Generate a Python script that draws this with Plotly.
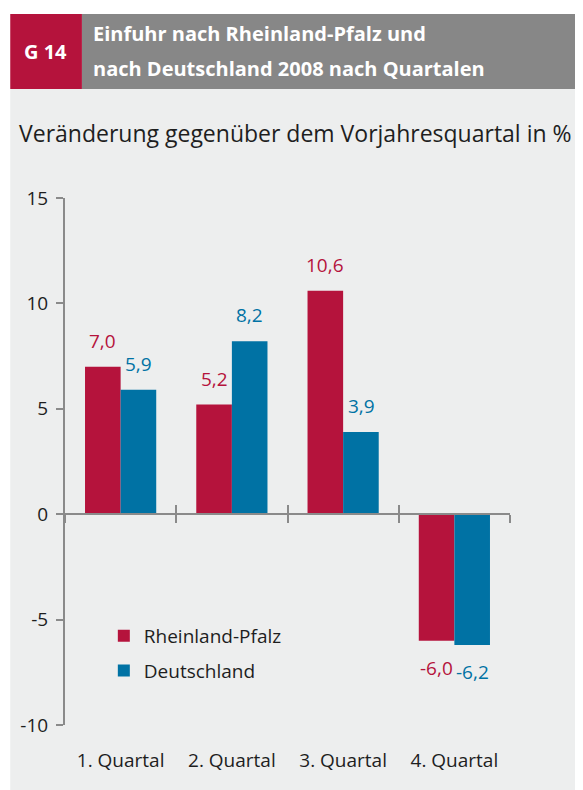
import plotly.graph_objects as go

# colours
RED = "#B5133C"
BLUE = "#0072A4"
AXIS = "#8A8A8A"
PANEL = "#EDEEEE"
HEADER = "#878787"
INK = "#1E1E1E"

FONT = "Open Sans, 'Noto Sans', sans-serif"

quarters = ["1. Quartal", "2. Quartal", "3. Quartal", "4. Quartal"]
rlp = [7.0, 5.2, 10.6, -6.0]
de = [5.9, 8.2, 3.9, -6.2]
y_ticks = [-10, -5, 0, 5, 10, 15]

# the page body adds an 8px margin, so the figure is a bit smaller than the window
OFF = 8
W, H = 583 - OFF, 790 - OFF
L, R, T, B = 55, 73, 190, 65
PW, PH = W - L - R, H - T - B
BARGAP = 0.36


def px(x):
    # page pixel -> paper x
    return (x - OFF - L) / PW


def py(y):
    # page pixel -> paper y
    return (H - B - (y - OFF)) / PH


def de_fmt(v):
    return f"{v:.1f}".replace(".", ",")


fig = go.Figure()
series = [("Rheinland-Pfalz", rlp, RED), ("Deutschland", de, BLUE)]
for name, vals, col in series:
    fig.add_trace(
        go.Bar(
            x=quarters,
            y=vals,
            name=name,
            legendgroup=name,
            marker=dict(color=col, line=dict(width=0)),
        )
    )

# value labels, placed on each bar through the axis scales
half_bar = PW / len(quarters) * (1 - BARGAP) / 2
labels = []
for k, (name, vals, col) in enumerate(series):
    shift = -half_bar / 2 if k == 0 else half_bar / 2
    for q, v in zip(quarters, vals):
        labels.append(dict(
            x=q, y=v, xref="x", yref="y", text=de_fmt(v), showarrow=False,
            xshift=shift, yshift=26 if v >= 0 else -27,
            xanchor="center", yanchor="middle",
            font=dict(size=19, color=col),
        ))

# invisible traces to carry the zero-line axes with boundary ticks
for ax in ["x2", "x3"]:
    fig.add_trace(go.Scatter(x=quarters, y=[0] * 4, xaxis=ax, mode="markers",
                             marker=dict(opacity=0), showlegend=False, hoverinfo="skip"))

zero_pos = (0 - y_ticks[0]) / (y_ticks[-1] - y_ticks[0])
zero_axis = dict(
    overlaying="x", matches="x", anchor="free", position=zero_pos,
    showline=True, linecolor=AXIS, linewidth=2,
    tickson="boundaries", ticklen=8, tickwidth=2, tickcolor=AXIS,
    showticklabels=False, showgrid=False, zeroline=False,
)

fig.update_layout(
    width=W, height=H,
    margin=dict(l=L, r=R, t=T, b=B),
    paper_bgcolor="white",
    plot_bgcolor="rgba(0,0,0,0)",
    font=dict(family=FONT, color=INK, size=19),
    barmode="group",
    bargap=BARGAP,
    bargroupgap=0,
    showlegend=True,
    legend=dict(
        x=px(102), y=py(617), xanchor="left", yanchor="top",
        bgcolor="rgba(0,0,0,0)", font=dict(size=19, color=INK),
        traceorder="grouped", tracegroupgap=7,
    ),
    xaxis=dict(
        showline=False, ticks="", showgrid=False, zeroline=False,
        tickfont=dict(size=19, color=INK),
        ticklabelstandoff=22,
    ),
    xaxis2=dict(zero_axis, ticks="outside"),
    xaxis3=dict(zero_axis, ticks="inside"),
    yaxis=dict(
        range=[y_ticks[0], y_ticks[-1]],
        tickvals=y_ticks,
        ticktext=[str(v) for v in y_ticks],
        showline=True, linecolor=AXIS, linewidth=2,
        ticks="outside", ticklen=7, tickwidth=2, tickcolor=AXIS,
        showgrid=False, zeroline=False,
        tickfont=dict(size=19, color=INK),
        ticklabelstandoff=4,
    ),
    shapes=[
        dict(type="rect", xref="paper", yref="paper", layer="below",
             x0=px(OFF), x1=px(583), y0=py(790), y1=py(89),
             fillcolor=PANEL, line=dict(width=0)),
        dict(type="rect", xref="paper", yref="paper", layer="below",
             x0=px(80), x1=px(583), y0=py(89), y1=py(14),
             fillcolor=HEADER, line=dict(width=0)),
        dict(type="rect", xref="paper", yref="paper", layer="below",
             x0=px(OFF), x1=px(80), y0=py(89), y1=py(14),
             fillcolor=RED, line=dict(width=0)),
    ],
    annotations=labels + [
        dict(text="<b>G 14</b>", xref="paper", yref="paper", x=px(43), y=py(52),
             xanchor="center", yanchor="middle", showarrow=False,
             font=dict(size=20, color="white")),
        dict(text="<b>Einfuhr nach Rheinland-Pfalz und</b>", xref="paper", yref="paper",
             x=px(89), y=py(33), xanchor="left", yanchor="middle", showarrow=False,
             font=dict(size=20, color="white")),
        dict(text="<b>nach Deutschland 2008 nach Quartalen</b>", xref="paper", yref="paper",
             x=px(89), y=py(68), xanchor="left", yanchor="middle", showarrow=False,
             font=dict(size=20, color="white")),
        dict(text="Veränderung gegenüber dem Vorjahresquartal in %", xref="paper", yref="paper",
             x=px(15), y=py(133), xanchor="left", yanchor="middle", showarrow=False,
             font=dict(size=23, color=INK)),
    ],
)

fig.write_html("out.html")
